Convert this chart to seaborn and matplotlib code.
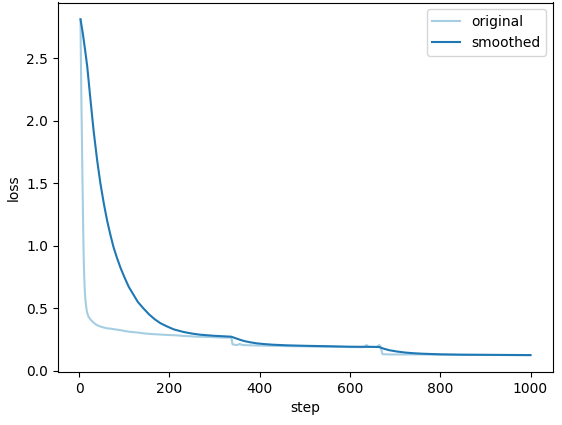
import numpy as np
import pandas as pd
import matplotlib
matplotlib.use("Agg")
import matplotlib.pyplot as plt
import seaborn as sns

# raw loss
orig_steps = [3, 4, 5, 6, 7, 8, 9, 10, 11, 12, 13, 14, 16, 18, 21, 25, 29, 35, 42, 50,
              60, 70, 80, 91, 100, 110, 128, 140, 157, 176, 200, 215, 231, 245, 260, 275,
              290, 304, 320, 337, 340, 350, 356, 362, 380, 400, 420, 445, 470, 495, 520,
              550, 580, 605, 630, 637, 642, 660, 665, 668, 672, 690, 720, 760, 800, 850,
              900, 950, 1000]
orig_loss = [2.81, 2.45, 2.15, 1.90, 1.62, 1.38, 1.12, 0.92, 0.78, 0.68, 0.61, 0.56, 0.50,
             0.46, 0.43, 0.41, 0.395, 0.375, 0.36, 0.35, 0.34, 0.336, 0.33, 0.325, 0.318,
             0.312, 0.306, 0.30, 0.294, 0.29, 0.285, 0.283, 0.278, 0.276, 0.272, 0.271,
             0.27, 0.267, 0.265, 0.265, 0.21, 0.205, 0.214, 0.205, 0.203, 0.201, 0.2,
             0.198, 0.196, 0.195, 0.193, 0.191, 0.19, 0.189, 0.188, 0.205, 0.19, 0.19,
             0.206, 0.19, 0.132, 0.13, 0.13, 0.13, 0.128, 0.127, 0.126, 0.125, 0.124]

# smoothed loss
smooth_steps = [3, 8, 13, 18, 25, 32, 40, 47, 55, 62, 69, 76, 84, 92, 100, 110, 120, 130,
                142, 155, 168, 180, 194, 210, 231, 250, 268, 300, 337, 345, 356, 367, 378,
                393, 410, 429, 460, 503, 550, 598, 637, 664, 675, 687, 705, 723, 740, 760,
                800, 850, 900, 950, 1000]
smooth_loss = [2.81, 2.70, 2.57, 2.43, 2.17, 1.92, 1.68, 1.50, 1.33, 1.20, 1.09, 0.99,
               0.90, 0.82, 0.75, 0.67, 0.61, 0.55, 0.50, 0.45, 0.41, 0.38, 0.355, 0.33,
               0.31, 0.297, 0.288, 0.279, 0.272, 0.262, 0.248, 0.236, 0.228, 0.219, 0.213,
               0.208, 0.203, 0.199, 0.196, 0.192, 0.191, 0.19, 0.176, 0.164, 0.153, 0.145,
               0.14, 0.136, 0.131, 0.128, 0.127, 0.126, 0.125]

df_orig = pd.DataFrame({'step': orig_steps, 'loss': orig_loss})
df_smooth = pd.DataFrame({'step': smooth_steps, 'loss': smooth_loss})

colors = sns.color_palette("Paired")

fig, ax = plt.subplots(figsize=(5.62, 4.25), dpi=100)
fig.subplots_adjust(left=58/562, right=553/562, top=1-2.5/425, bottom=1-372/425)

sns.lineplot(data=df_orig, x='step', y='loss', color=colors[0], label='original', ax=ax)
sns.lineplot(data=df_smooth, x='step', y='loss', color=colors[1], label='smoothed', ax=ax)

ax.set_xlabel('step')
ax.set_ylabel('loss')
ax.legend(loc='upper right')

plt.savefig('out.png', dpi=100)
